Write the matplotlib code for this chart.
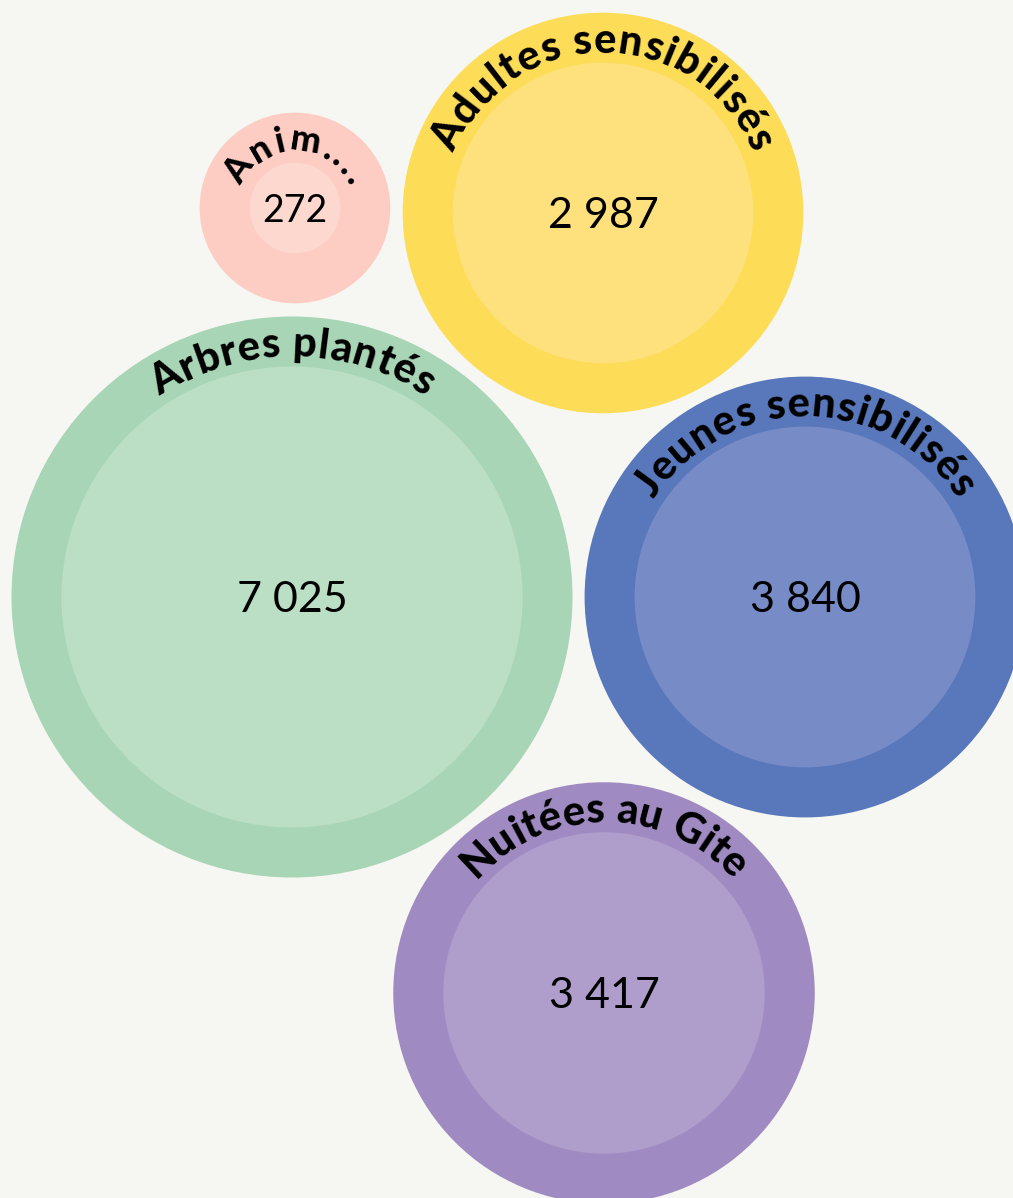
import numpy as np
import matplotlib
matplotlib.use("Agg")
import matplotlib.pyplot as plt
from matplotlib.patches import Circle
from matplotlib.font_manager import FontProperties

# ---- data ----
labels = ["Anim....", "Adultes sensibilisés", "Arbres plantés", "Jeunes sensibilisés", "Nuitées au Gite"]
values = [272, 2987, 7025, 3840, 3417]
outer_colors = ["#fdcdc4", "#fddc58", "#a8d5b5", "#5878bb", "#9f8bc1"]
inner_colors = ["#fdd8cf", "#fee17c", "#badfc4", "#778bc6", "#af9dcb"]

# ---- layout (pixels) ----
centers = [(295, 208), (603, 213), (292, 597), (805, 597), (604, 993)]
label_sizes = [26, 30, 30, 30, 30]
label_spans = [136, 136, 67, 114, 97]   # angular extent of each curved label (deg)
value_sizes = [27, 31, 31, 31, 31]
W, H = 1013, 1198
DPI = 100
RING = 50
SCALE = 2.75

bg = "#f6f7f2"
fig = plt.figure(figsize=(W / DPI, H / DPI), dpi=DPI, facecolor=bg)
ax = fig.add_axes([0, 0, 1, 1])
ax.set_xlim(0, W)
ax.set_ylim(H, 0)
ax.set_aspect("equal")
ax.axis("off")
ax.set_facecolor(bg)

renderer = fig.canvas.get_renderer()
label_font = ["Lato", "DejaVu Sans"]
value_font = ["Lato", "DejaVu Sans"]


def text_w(s, prop):
    if s == "":
        return 0.0
    w, h, d = renderer.get_text_width_height_descent(s, prop, ismath=False)
    return w


def curved_text(cx, cy, r_mid, s, size, span_deg):
    prop = FontProperties(family=label_font, weight="black", size=size)
    size_px = size * DPI / 72.0
    R = r_mid - 0.36 * size_px
    total = text_w(s, prop)
    n = len(s)
    # extra letter spacing so the label covers the wanted arc
    track = (np.radians(span_deg) * R - total) / max(n - 1, 1)
    full = total + track * (n - 1)
    for i, ch in enumerate(s):
        if ch == " ":
            continue
        a = text_w(s[:i], prop)
        b = text_w(s[:i + 1], prop)
        c = (a + b) / 2 + track * i - full / 2
        th = c / R
        x = cx + R * np.sin(th)
        y = cy - R * np.cos(th)
        ax.text(x, y, ch, fontproperties=prop, color="black",
                ha="center", va="baseline", rotation=-np.degrees(th),
                rotation_mode="anchor")


for lab, v, (cx, cy), oc, ic, ls, sp, vs in zip(labels, values, centers, outer_colors,
                                              inner_colors, label_sizes, label_spans,
                                              value_sizes):
    r_in = SCALE * np.sqrt(v)
    r_out = r_in + RING
    ax.add_patch(Circle((cx, cy), r_out, facecolor=oc, edgecolor="none"))
    ax.add_patch(Circle((cx, cy), r_in, facecolor=ic, edgecolor="none"))
    vs_px = vs * DPI / 72.0
    ax.text(cx, cy + 0.36 * vs_px, f"{v:,}".replace(",", " "), family=value_font,
            weight="normal", fontsize=vs, ha="center", va="baseline", color="black")
    curved_text(cx, cy, (r_in + r_out) / 2, lab, ls, sp)

fig.savefig("out.png", dpi=DPI, facecolor=bg)
